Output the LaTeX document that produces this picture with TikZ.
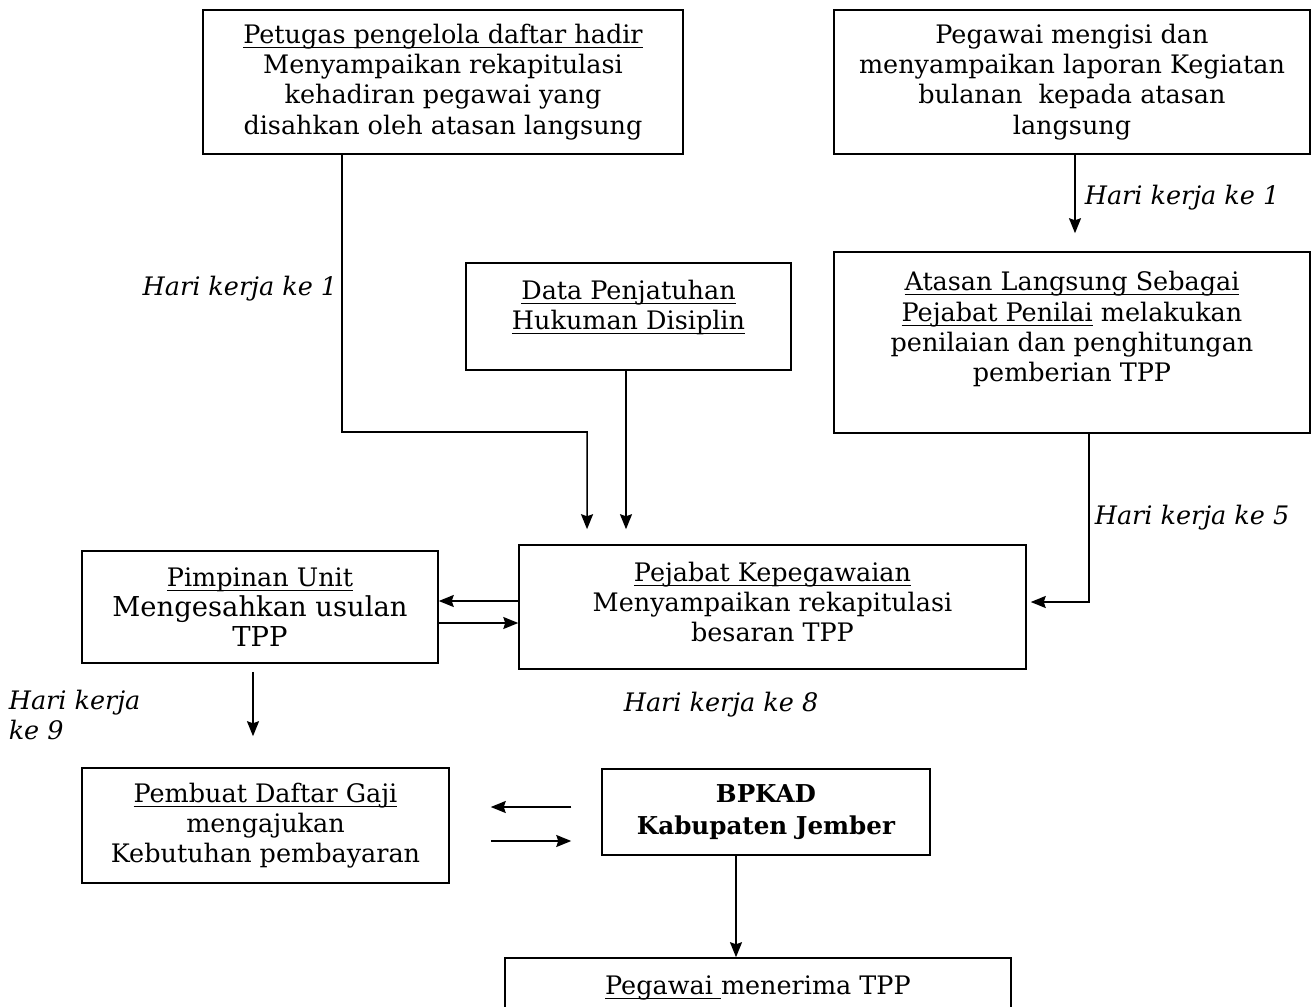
\documentclass[tikz,border=0pt]{standalone}
\usepackage{fontspec}
\setmainfont{DejaVu Serif}
\usetikzlibrary{positioning, arrows.meta, calc}

\newcommand{\bigtxt}{\fontsize{15.6}{21}\selectfont}
\newcommand{\drop}[1]{\rule[-#1]{0pt}{#1}}
\newcommand{\ul}[1]{\setbox0\hbox{#1}\rlap{\rule[-2.6pt]{\wd0}{0.6pt}}\box0\relax}

\tikzset{
  box/.style={draw, rectangle, align=center, inner sep=0pt},
  lbl/.style={font=\fontsize{14.5}{17.5}\selectfont\itshape, inner sep=0pt},
  arr/.style={-{Stealth[length=0.3cm, width=0.24cm, inset=0.04cm]}}
}

\begin{document}
\begin{tikzpicture}[x=0.02cm, y=-0.02cm, line width=0.9pt,
    every node/.append style={font=\fontsize{14.5}{17.2}\selectfont}]
  \useasboundingbox (0,0) rectangle (1312,1007);

  % boxes
  \node[box, minimum width=9.6cm, minimum height=2.88cm] (petugas) at (443,82)
    {\ul{Petugas pengelola daftar hadir}\\ Menyampaikan rekapitulasi\\
     kehadiran pegawai yang\\ disahkan oleh atasan langsung};
  \node[box, minimum width=9.52cm, minimum height=2.88cm] (pegawai) at (1072,82)
    {Pegawai mengisi dan\\ menyampaikan laporan Kegiatan\\
     bulanan\ \ kepada atasan\\ langsung};
  \node[box, minimum width=9.52cm, minimum height=3.62cm] (atasan) at (1072,342.5)
    {\ul{Atasan Langsung Sebagai}\\ \ul{Pejabat Penilai} melakukan\\
     penilaian dan penghitungan\\ pemberian TPP\drop{0.64cm}};
  \node[box, minimum width=6.5cm, minimum height=2.14cm] (hukdis) at (628.5,316.5)
    {\ul{Data Penjatuhan}\\ \ul{Hukuman Disiplin}\drop{0.48cm}};
  \node[box, minimum width=10.14cm, minimum height=2.48cm] (kepeg) at (772.5,607)
    {\ul{Pejabat Kepegawaian}\\ Menyampaikan rekapitulasi\\ besaran TPP\drop{0.2cm}};
  \node[box, minimum width=7.12cm, minimum height=2.24cm] (pimpinan) at (260,607)
    {\ul{Pimpinan Unit}\\ {\bigtxt Mengesahkan usulan}\\ {\bigtxt TPP}};
  \node[box, minimum width=7.34cm, minimum height=2.3cm] (gaji) at (265.5,825.5)
    {\ul{Pembuat Daftar Gaji}\\ mengajukan\\ Kebutuhan pembayaran};
  \node[box, minimum width=6.56cm, minimum height=1.72cm, font=\fontsize{14}{18}\selectfont\bfseries]
    (bpkad) at (766,812) {BPKAD\\ Kabupaten Jember\drop{0.1cm}};
  \node[box, minimum width=10.12cm, minimum height=1.2cm] (terima) at (758,988)
    {\ul{Pegawai\ }menerima TPP};

  % labels
  \node[lbl, anchor=east] (hk1a) at (338,289) {Hari kerja ke 1};
  \node[lbl, anchor=west] (hk1b) at (1084,198) {Hari kerja ke 1};
  \node[lbl, anchor=west] (hk5) at (1094,518) {Hari kerja ke 5};
  \node[lbl, anchor=west] (hk8) at (623,705) {Hari kerja ke 8};
  \node[lbl, anchor=west, align=left] (hk9) at (8,715) {Hari kerja\\ ke 9};

  % connectors
  \draw[arr] ([xshift=-2.02cm]petugas.south) -- (342,432)
    -| ([xshift=-3.71cm, yshift=0.3cm]kepeg.north);
  \draw[arr] ([xshift=-0.05cm]hukdis.south)
    -- ([xshift=-0.05cm, yshift=0.3cm]kepeg.north -| hukdis.south);
  \draw[arr, shorten >=0.36cm] ([xshift=0.06cm]pegawai.south)
    -- ([xshift=0.06cm]atasan.north);
  \draw[arr, shorten >=0.08cm] ([xshift=0.34cm]atasan.south)
    |- ([yshift=0.1cm]kepeg.east);
  \draw[arr] ([yshift=0.12cm]kepeg.west) -- ([yshift=0.12cm]pimpinan.east);
  \draw[arr] ([yshift=-0.32cm]pimpinan.east) -- ([yshift=-0.32cm]kepeg.west);
  \draw[arr, shorten <=0.16cm, shorten >=0.62cm] ([xshift=-0.14cm]pimpinan.south)
    -- ([xshift=-0.14cm]pimpinan.south |- gaji.north);
  \draw[arr, shorten <=0.6cm, shorten >=0.82cm] ([yshift=0.1cm]bpkad.west)
    -- ([yshift=0.1cm]bpkad.west -| gaji.east);
  \draw[arr, shorten <=0.82cm, shorten >=0.6cm] ([yshift=-0.58cm]bpkad.west -| gaji.east)
    -- ([yshift=-0.58cm]bpkad.west);
  \draw[arr] ([xshift=-0.6cm]bpkad.south) -- ([xshift=-0.6cm]bpkad.south |- terima.north);
\end{tikzpicture}
\end{document}
